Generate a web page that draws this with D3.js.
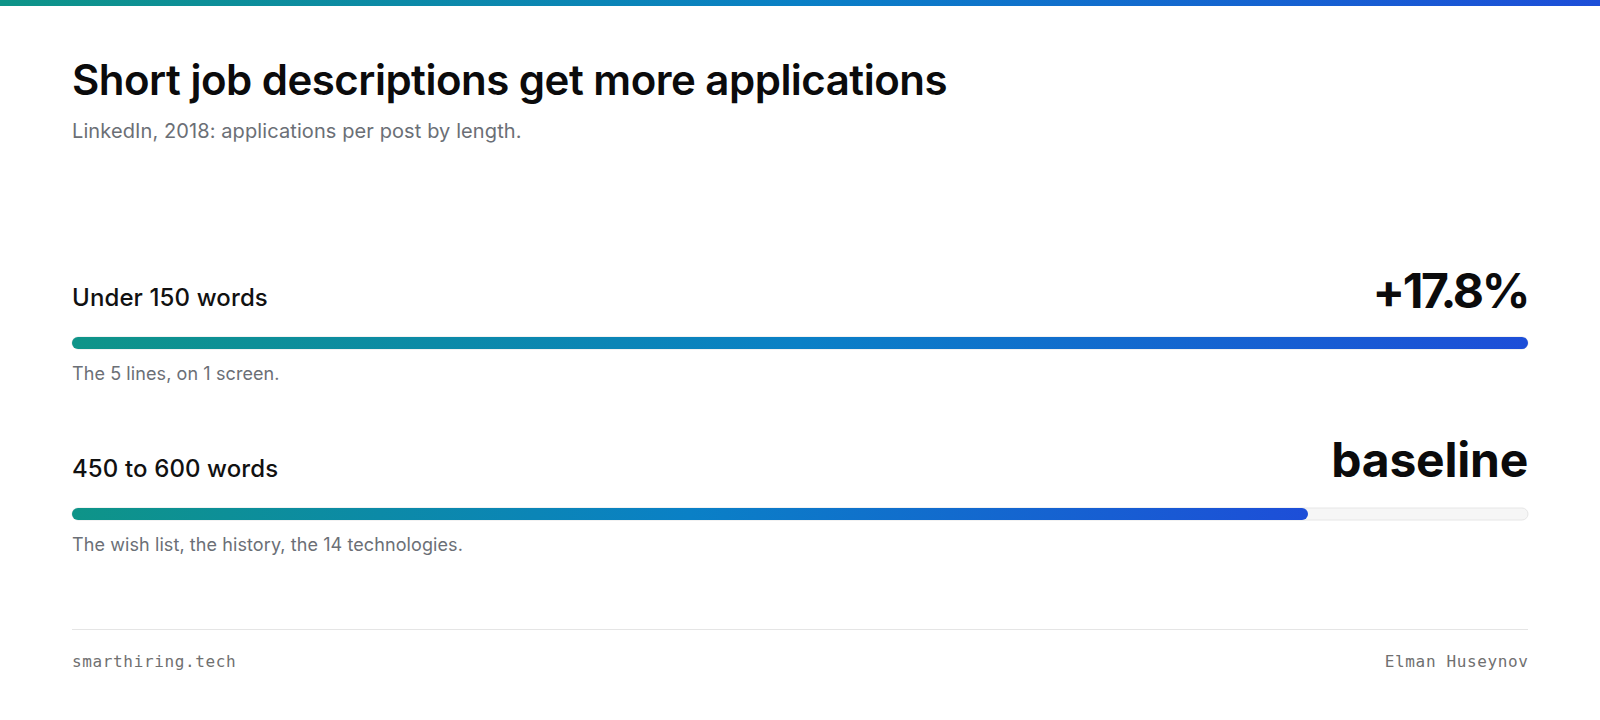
<!DOCTYPE html>
<html>
<head>
<meta charset="utf-8">
<script src="https://cdn.jsdelivr.net/npm/d3@7"></script>
<style>
  html, body { margin: 0; padding: 0; background: #ffffff; }
  svg { display: block; }
</style>
</head>
<body>
<svg id="chart" width="1600" height="720"></svg>
<script>
// ---- data ----
const categories = ["Under 150 words", "450 to 600 words"];
const values = [117.8, 100];              // applications index (450–600 words = 100)
const valueLabels = ["+17.8%", "baseline"];
const notes = ["The 5 lines, on 1 screen.", "The wish list, the history, the 14 technologies."];
const titleText = "Short job descriptions get more applications";
const subtitleText = "LinkedIn, 2018: applications per post by length.";
const footerLeft = "smarthiring.tech";
const footerRight = "Elman Huseynov";

// ---- layout ----
const W = 1600, H = 720;
const left = 72, right = 1528;
const rowTop = [306, 477];   // label baselines
const barH = 12;

const svg = d3.select("#chart");

const defs = svg.append("defs");
function grad(id) {
  const g = defs.append("linearGradient").attr("id", id)
    .attr("x1", "0%").attr("x2", "100%").attr("y1", "0%").attr("y2", "0%");
  g.append("stop").attr("offset", "0%").attr("stop-color", "#0e9488");
  g.append("stop").attr("offset", "50%").attr("stop-color", "#0a80c6");
  g.append("stop").attr("offset", "100%").attr("stop-color", "#1d4ed8");
}
grad("g0"); grad("g1"); grad("gtop");

// top strip
svg.append("rect").attr("x", 0).attr("y", 0).attr("width", W).attr("height", 6)
  .attr("fill", "url(#gtop)");

// title
svg.append("text").attr("x", left).attr("y", 95)
  .attr("font-family", "Inter, 'Noto Sans', sans-serif")
  .attr("font-weight", 600).attr("font-size", 42)
  .attr("letter-spacing", "-0.012em")
  .attr("fill", "#0b0b0c").text(titleText);

svg.append("text").attr("x", left).attr("y", 138)
  .attr("font-family", "Inter, 'Noto Sans', sans-serif")
  .attr("font-size", 20).attr("letter-spacing", "0.005em")
  .attr("fill", "#6b6f76").text(subtitleText);

const x = d3.scaleLinear().domain([0, d3.max(values)]).range([left, right]);

const rows = svg.selectAll("g.row").data(categories).join("g").attr("class", "row");

rows.append("text")
  .attr("x", left).attr("y", (d, i) => rowTop[i])
  .attr("font-family", "Inter, 'Noto Sans', sans-serif")
  .attr("font-size", 24).attr("font-weight", 500).attr("letter-spacing", "0.005em")
  .attr("fill", "#111111")
  .text(d => d);

rows.append("text")
  .attr("x", right).attr("y", (d, i) => rowTop[i] + (i === 0 ? 2 : 0))
  .attr("text-anchor", "end")
  .attr("font-family", "Inter, 'Noto Sans', sans-serif")
  .attr("font-size", 48).attr("font-weight", 700)
  .attr("letter-spacing", (d, i) => /\d/.test(valueLabels[i]) ? "-0.05em" : "-0.005em")
  .attr("fill", "#0b0b0c")
  .text((d, i) => valueLabels[i]);

// track
rows.append("rect")
  .attr("x", left).attr("y", (d, i) => rowTop[i] + 31)
  .attr("width", x(d3.max(values)) - left).attr("height", barH)
  .attr("rx", barH / 2)
  .attr("fill", "#f6f6f6").attr("stroke", "#e6e6e6").attr("stroke-width", 1);

// bars
rows.append("rect")
  .attr("x", left).attr("y", (d, i) => rowTop[i] + 31)
  .attr("width", (d, i) => x(values[i]) - left).attr("height", barH)
  .attr("rx", barH / 2)
  .attr("fill", (d, i) => `url(#g${i})`);

rows.append("text")
  .attr("x", left).attr("y", (d, i) => rowTop[i] + 74)
  .attr("font-family", "Inter, 'Noto Sans', sans-serif")
  .attr("font-size", 18).attr("letter-spacing", "0.005em").attr("fill", "#6b6f76")
  .text((d, i) => notes[i]);

// footer
svg.append("line").attr("x1", left).attr("x2", right).attr("y1", 629.5).attr("y2", 629.5)
  .attr("stroke", "#e5e5e5").attr("stroke-width", 1);

svg.append("text").attr("x", left).attr("y", 667)
  .attr("font-family", "'DejaVu Sans Mono', 'Liberation Mono', monospace")
  .attr("font-size", 16).attr("letter-spacing", "0.04em").attr("fill", "#707070")
  .text(footerLeft);
svg.append("text").attr("x", right + 0.64).attr("y", 667).attr("text-anchor", "end")
  .attr("font-family", "'DejaVu Sans Mono', 'Liberation Mono', monospace")
  .attr("font-size", 16).attr("letter-spacing", "0.04em").attr("fill", "#707070")
  .text(footerRight);
</script>
</body>
</html>
